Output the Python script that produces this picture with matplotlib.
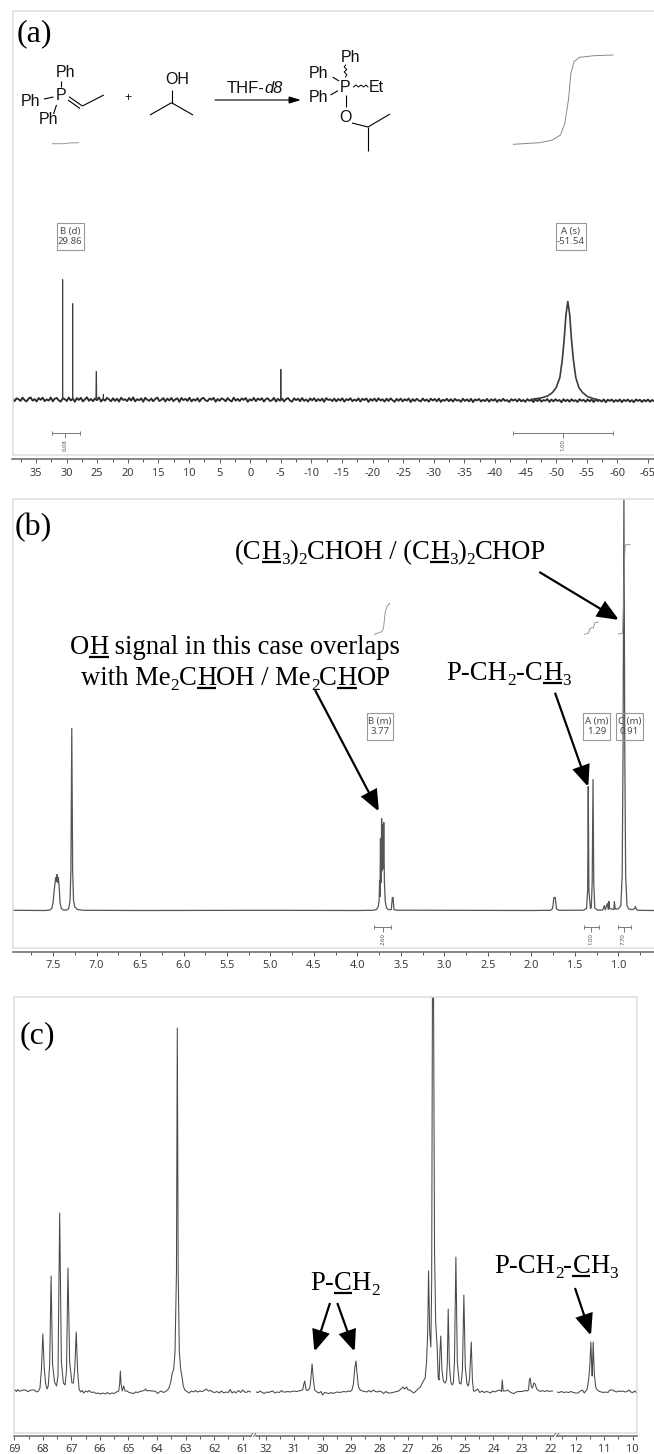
import matplotlib
matplotlib.use("Agg")
import matplotlib.pyplot as plt
import numpy as np
from matplotlib.patches import FancyArrowPatch, Rectangle

W, H, DPI = 654, 1454, 100
PX = 72 / DPI
SERIF, SANS, TICKF = "Liberation Serif", "Liberation Sans", "Noto Sans"

# ---------- DATA ----------
a_ticks = [35, 30, 25, 20, 15, 10, 5, 0, -5, -10, -15, -20, -25, -30, -35, -40, -45, -50, -55, -60, -65]
b_ticks = [7.5, 7.0, 6.5, 6.0, 5.5, 5.0, 4.5, 4.0, 3.5, 3.0, 2.5, 2.0, 1.5, 1.0]
c_ticks_left = [69, 68, 67, 66, 65, 64, 63, 62, 61]
c_ticks_mid = [32, 31, 30, 29, 28, 27, 26, 25, 24, 23, 22]
c_ticks_right = [12, 11, 10]

# (a) 31P baseline noise, height above baseline, left to right
a_noise = [0.6,-1.7,1.2,0.2,-1.4,1.9,-0.6,-1.9,1.0,2.1,-1.2,0.4,-2.0,1.5,-0.3,1.8,-1.6,0.1,-1.1,2.0,
 -1.8,0.7,1.6,-0.9,-2.1,1.3,0.3,-1.5,1.9,-1.0,0.9,-2.2,1.4,-0.4,1.7,-1.9,0.2,2.2,-1.3,0.6,
 -1.7,1.1,-0.7,2.0,-2.0,0.5,-1.2,1.6,0.1,-1.8,1.3,-1.4,0.8,-2.1,1.8,-0.5,0.3,-1.6,1.5,-1.1,
 2.1,-1.9,0.4,-0.8,1.2,-2.2,1.7,-0.2,-1.3,1.0,-1.8,0.6,1.9,-1.5,-0.4,1.4,-2.0,0.9,-1.0,1.6,
 -1.7,0.2,1.1,-2.3,1.5,-0.6,0.7,-1.4,1.8,-1.9,0.3,-1.1,1.3,-2.1,0.8,1.6,-0.9,-1.6,1.0,-0.3,
 1.7,-2.2,0.5,-1.3,1.2,0.1,-1.8,1.4,-0.7,-2.0,1.9,-1.2,0.6,-1.6,1.1,-0.4,1.5,-2.3,0.2,-1.0,
 1.6,-1.7,0.9,-0.5,1.3,-2.1,0.4,1.2,-1.5,-0.8,1.7,-2.0,0.7,-1.2,1.0,-1.9,0.3,1.4,-1.1,-2.2,
 1.2,-0.6,0.8,-1.7,1.5,-1.4,0.1,-2.1,1.1,-0.9,1.3,-1.8,0.5,-1.3,0.9,-2.3,1.4,-0.5,0.2,-1.6,
 1.0,-1.9,0.6,-1.1,1.2,-2.2,0.4,-0.8,1.3,-1.7,0.0,-1.4,1.1,-2.0,0.7,-0.6,1.0,-2.4,0.5,-1.2,
 0.9,-1.8,1.2,-1.0,0.2,-2.1,0.8,-1.5,1.1,-0.7,-2.3,0.6,-1.3,0.9,-1.9,0.3,-1.1,1.0,-2.5,0.4,
 -1.6,0.7,-0.9,-2.0,1.0,-1.4,0.1,-2.2,0.8,-1.0,0.5,-1.8,0.9,-2.4,-0.2,-1.3,0.7,-1.7,0.3,-2.1,
 0.6,-1.1,-0.4,-2.3,0.8,-1.5,0.2,-1.9,0.7,-2.6,0.1,-1.0,0.5,-2.0,-0.3,-1.6,0.6,-2.2,0.2,-1.2,
 0.4,-2.4,-0.1,-1.7,0.7,-1.4,-0.5,-2.5,0.3,-1.1,0.1,-2.0,0.5,-1.8,-0.4,-2.3,0.4,-1.3,-0.2,-2.6,
 0.2,-1.6,0.3,-2.1,-0.6,-1.2,0.4,-2.4,0.0,-1.9,0.2,-1.4,-0.5,-2.7,0.3,-1.7,-0.2,-2.2,0.2,-1.5,
 -0.7,-2.5,0.3,-1.3,-0.3,-2.3,0.1,-1.8,-0.1,-2.6,0.2,-1.6,-0.6,-2.1,0.1,-2.8,-0.2,-1.4,0.0,-2.4,
 -0.5,-1.9,0.1,-2.6,-0.3,-1.7,0.0,-2.2,-0.6,-2.7,0.1,-1.5,-0.2,-2.5,-0.4,-1.9,0.0,-2.3,-0.5,-1.6]
a_peak1 = [(30.66, 0), (30.63, 120), (30.60, 0)]
a_peak2 = [(29.02, 0), (28.99, 96), (28.96, 0)]
a_peak3 = [(25.22, 0), (25.17, 28), (25.12, 28), (25.07, 0)]
a_peak4 = [(24.03, 0), (24.00, 5), (23.97, 0)]
a_peak5 = [(-4.98, 0), (-5.00, 30), (-5.02, 0)]
a_peak6 = [(-46.0,0.2),(-47.5,1.5),(-48.6,3.5),(-49.4,7),(-50.0,12),(-50.6,22),(-51.0,40),(-51.3,60),(-51.6,85),
           (-51.9,98),(-52.2,85),(-52.5,60),(-52.8,40),(-53.2,22),(-53.7,12),(-54.3,7),(-55.1,3),(-56.1,0.8),(-57,-0.5)]
a_int1 = [(32.34,255.8),(30.62,255.8),(29.6,256.5),(28.03,256.8)]
a_int2 = [(-43.0,255.2),(-47.3,256.8),(-49.4,259.5),(-50.7,264.5),(-51.4,276.2),(-52.0,299.5),(-52.4,326.2),
          (-52.9,337.8),(-53.8,342.2),(-56.2,343.8),(-59.3,344.5)]

# (b) 1H trace (ppm, height)
b_trace = [(7.96,0.2),(7.60,0),(7.54,0.4),(7.515,2),(7.50,8),(7.485,22),(7.47,33),(7.46,29),(7.455,36),(7.445,28),(7.44,33),
 (7.43,24),(7.42,8),(7.405,2),(7.38,0.5),(7.34,0.5),(7.32,2),(7.305,10),(7.295,40),(7.285,182),(7.275,40),
 (7.265,10),(7.25,3.5),(7.22,1),(7.15,0.2),(6.5,0),(5.0,0.2),(4.0,0),(3.82,0.2),(3.78,1),(3.76,4),(3.75,10),
 (3.745,30),(3.74,14),(3.735,72),(3.728,28),(3.722,92),(3.716,40),(3.71,86),(3.703,42),(3.697,88),(3.69,30),
 (3.68,9),(3.665,2.5),(3.64,0.8),(3.61,1),(3.598,13),(3.59,13),(3.58,1),(3.55,0.3),(3.0,0.2),(2.0,0),(1.78,0.2),
 (1.755,2),(1.74,13),(1.725,13),(1.71,1.5),(1.68,0.2),(1.40,0.3),(1.365,2),(1.352,20),(1.345,124),(1.338,20),
 (1.32,2),(1.31,3),(1.30,28),(1.29,131),(1.282,28),(1.27,2.5),(1.24,0.4),(1.18,0.4),(1.16,5),(1.15,0.6),(1.125,7),(1.115,1),
 (1.108,9),(1.10,2),(1.05,1),(1.045,9),(1.035,1.5),(1.0,1.5),(0.97,5),(0.955,35),(0.945,160),(0.935,420),(0.925,160),
 (0.915,35),(0.90,5),(0.88,1.5),(0.84,0.8),(0.81,2),(0.805,4),(0.795,2),(0.78,0.2),(0.59,0)]
b_int1 = [(3.806,276.2),(3.72,278.8),(3.70,282.2),(3.68,298.8),(3.66,303.8),(3.63,307.2)]
b_int2 = [(1.39,276.2),(1.345,277.2),(1.325,282.2),(1.287,282.8),(1.268,287.8),(1.23,288.5)]
b_int3 = [(1.0,276.5),(0.95,277.2),(0.938,312),(0.931,345),(0.92,365.5),(0.865,366.2)]

# (c) 13C trace segments (ppm, height)
c_left = [(69.02,1),(68.97,2),(68.92,0.5),(68.88,2.5),(68.82,0.8),(68.75,1.5),(68.68,2),(68.6,2),(68.52,0.3),(68.45,1.5),
 (68.38,2),(68.3,2),(68.22,0),(68.15,1),(68.1,4),(68.05,22),(68.0,58),(67.95,24),(67.9,8),(67.85,3),(67.81,6),(67.76,28),
 (67.71,116),(67.66,28),(67.59,10),(67.52,6),(67.47,16),(67.41,179),(67.35,30),(67.28,9),(67.22,7),(67.17,22),(67.12,124),
 (67.06,30),(66.98,9),(66.93,9),(66.88,24),(66.83,60),(66.78,20),(66.73,3),(66.68,0),(66.62,1.5),(66.57,-1),(66.5,1),
 (66.44,0),(66.38,1.5),(66.3,-0.5),(66.22,0),(66.14,-1.5),(66.05,-1),(65.98,-2),(65.9,-1),(65.82,-2),(65.74,-0.5),(65.66,-2),
 (65.58,-1),(65.5,-1.5),(65.42,0),(65.34,1),(65.31,8),(65.285,21),(65.26,8),(65.22,1),(65.17,6),(65.12,1),(65.05,1),
 (64.98,-0.5),(64.9,-1),(64.82,-1.5),(64.75,0),(64.68,-0.5),(64.6,0.5),(64.52,1),(64.45,1.5),(64.4,3),(64.35,1),(64.28,1.5),
 (64.2,1),(64.12,1),(64.05,0.5),(63.98,-1.5),(63.92,0),(63.85,1),(63.78,-0.5),(63.7,0.5),(63.63,2),(63.57,5),(63.52,10),
 (63.46,20),(63.42,22),(63.37,40),(63.32,120),(63.29,364),(63.26,120),(63.22,40),(63.17,22),(63.13,16),(63.08,6),(63.03,2),
 (62.95,0.5),(62.88,-1),(62.8,1),(62.72,0),(62.65,1.5),(62.58,0),(62.5,1),(62.42,0.5),(62.35,1.5),(62.28,3),(62.2,1),
 (62.12,1.5),(62.05,0),(61.98,-0.5),(61.9,0.5),(61.82,-1),(61.75,1),(61.66,-1),(61.58,0),(61.5,-0.5),(61.44,2.5),(61.37,-1),
 (61.3,0.5),(61.24,-1),(61.15,1.5),(61.07,-0.5),(61.0,2),(60.93,0),(60.87,-0.5),(60.8,1),(60.72,0)]
c_mid = [(32.34,0),(32.26,-0.5),(32.2,1),(32.12,-0.5),(32.05,-1.5),(31.97,0),(31.9,-0.5),(31.82,0.5),(31.75,1),(31.68,-1),
 (31.6,0),(31.52,-0.5),(31.44,1.5),(31.38,0),(31.3,0),(31.22,0.5),(31.15,0),(31.08,0.5),(31.0,1),(30.92,0.5),(30.85,1),
 (30.78,1.5),(30.7,2),(30.66,8),(30.63,11),(30.58,2),(30.52,1.5),(30.45,4),(30.41,14),(30.37,28),(30.33,14),(30.28,2),
 (30.2,0),(30.13,-1),(30.06,0.5),(30.0,-3),(29.93,-0.5),(29.86,-1),(29.78,-1.5),(29.7,-0.5),(29.62,-1.5),(29.55,-0.5),
 (29.48,0),(29.4,-0.5),(29.32,0),(29.25,0.5),(29.18,0),(29.1,1),(29.03,0.5),(28.97,2),(28.92,8),(28.87,24),(28.83,31),
 (28.79,18),(28.74,5),(28.68,2),(28.6,1),(28.52,0.5),(28.45,0),(28.37,1.5),(28.3,0),(28.22,2),(28.15,0.5),(28.08,0),
 (28.0,1),(27.92,0),(27.86,-1.5),(27.78,0.5),(27.7,-1),(27.62,-1),(27.55,-0.5),(27.47,0),(27.4,0.5),(27.33,1),(27.25,3),
 (27.18,5),(27.12,3),(27.05,5),(27.0,2),(26.94,2),(26.87,0.5),(26.8,-1),(26.72,1),(26.65,3),(26.57,5),(26.48,10),
 (26.4,14),(26.35,30),(26.31,60),(26.28,121),(26.24,60),(26.2,45),(26.17,110),(26.14,440),(26.11,440),(26.07,140),(26.03,70),
 (25.98,46),(25.94,14),(25.91,12),(25.88,40),(25.85,56),(25.81,22),(25.76,11),(25.7,9),(25.65,12),(25.62,30),(25.59,83),
 (25.55,28),(25.5,10),(25.45,7),(25.41,9),(25.37,30),(25.32,135),(25.27,30),(25.2,9),(25.14,8),(25.09,22),(25.04,97),
 (24.99,25),(24.93,8),(24.88,6),(24.84,14),(24.78,50),(24.74,12),(24.7,1),(24.64,1),(24.56,3),(24.48,-0.5),(24.4,1),
 (24.33,-0.5),(24.25,0.5),(24.18,0),(24.1,-1),(24.03,1),(23.95,0),(23.88,1),(23.8,2),(23.72,0.5),(23.69,12),(23.66,1),
 (23.58,1),(23.5,2),(23.42,0),(23.35,-1),(23.28,-1.5),(23.2,0),(23.12,0.5),(23.05,0.5),(22.98,0.5),(22.9,1.5),(22.82,1),(22.77,2),
 (22.74,12),(22.71,14),(22.67,5),(22.63,4),(22.58,9),(22.54,8),(22.48,3),(22.42,1.5),(22.35,0.5),(22.28,1.5),(22.2,0.5),
 (22.12,1.5),(22.05,0.5),(21.97,1),(21.92,1)]
c_right = [(12.66,0),(12.58,-0.5),(12.5,0.5),(12.42,-0.5),(12.33,0),(12.25,-0.5),(12.17,0.5),(12.09,-0.5),(12.0,-1),(11.92,-1),
 (11.84,1),(11.77,2),(11.7,-1),(11.65,1),(11.6,3),(11.55,12),(11.51,25),(11.47,50),(11.43,16),(11.42,16),(11.39,50),(11.35,18),
 (11.3,5),(11.25,2),(11.17,0.5),(11.1,0),(11.02,-0.5),(10.95,0),(10.87,-0.5),(10.8,2),(10.72,2),(10.65,1),(10.57,0),(10.5,1),
 (10.42,0.5),(10.34,1),(10.27,0),(10.2,0.5),(10.13,2),(10.07,0),(10.0,-0.5),(9.92,1),(9.86,-1)]

# ---------- FIGURE ----------
plt.rcParams["font.family"] = TICKF
fig = plt.figure(figsize=(W / DPI, H / DPI), dpi=DPI, facecolor="white")


def spec_ax(x0, x1, ytop, ybot, xlim, base):
    ax = fig.add_axes([x0 / W, 1 - ybot / H, (x1 - x0) / W, (ybot - ytop) / H])
    ax.set_xlim(*xlim)
    ax.set_ylim(base - ybot, base - ytop)
    ax.patch.set_alpha(0)
    for s in ("top", "left", "right"):
        ax.spines[s].set_visible(False)
    ax.spines["bottom"].set_color("#666666")
    ax.spines["bottom"].set_linewidth(1.1)
    ax.set_yticks([])
    return ax


def ticks(ax, major, fmt, minor):
    ax.set_xticks(major)
    ax.set_xticklabels([fmt.format(m) for m in major])
    ax.set_xticks(minor, minor=True)
    ax.tick_params(axis="x", which="major", length=3.2, width=0.7, color="#555555",
                   labelsize=7.9, labelcolor="#3a3a3a", pad=3.0)
    ax.tick_params(axis="x", which="minor", length=2.2, width=0.7, color="#555555")


def line(ax, pts, color="#3c3c3c", lw=0.7):
    arr = np.array(pts)
    ax.plot(arr[:, 0], arr[:, 1], color=color, lw=lw, solid_joinstyle="round")


# (a) --------
ax_a = spec_ax(12.5, 654, 11, 459, (38.84, -65.98), 399.5)
ticks(ax_a, a_ticks, "{:d}", [p + 2.5 for p in a_ticks if p > -65])
ax_a.plot(np.linspace(38.84, -65.98, len(a_noise)), a_noise, color="#2a2a2a", lw=1.35)
for pk, lw in ((a_peak1, 0.6), (a_peak2, 0.6), (a_peak3, 0.7), (a_peak4, 0.7), (a_peak5, 0.8), (a_peak6, 1.2)):
    line(ax_a, pk, lw=lw)
line(ax_a, a_int1, "#999999", 0.7)
line(ax_a, a_int2, "#888888", 0.7)

# (b) --------
ax_b = spec_ax(13, 654, 499, 951.7, (7.961, 0.589), 910.5)
ticks(ax_b, b_ticks, "{:.1f}", [p - 0.25 for p in b_ticks] + [7.75])
line(ax_b, b_trace, "#555555", 0.9)
line(ax_b, b_int1, "#888888", 0.6)
line(ax_b, b_int2, "#888888", 0.6)
line(ax_b, b_int3, "#888888", 0.6)

# (c) --------
ax_c1 = spec_ax(13.7, 250.7, 996.7, 1435.7, (69.02, 60.72), 1392)
ticks(ax_c1, c_ticks_left, "{:d}", [p - 0.5 for p in c_ticks_left[:-1]])
ax_c2 = spec_ax(256, 552.7, 996.7, 1435.7, (32.34, 21.92), 1392)
ticks(ax_c2, c_ticks_mid, "{:d}", [p - 0.5 for p in c_ticks_mid[:-1]] + [32.25])
ax_c3 = spec_ax(557, 636.7, 996.7, 1435.7, (12.66, 9.86), 1392)
ticks(ax_c3, c_ticks_right, "{:d}", [11.5, 10.5, 12.5])
line(ax_c1, c_left, "#484848", 0.75)
line(ax_c2, c_mid, "#484848", 0.75)
line(ax_c3, c_right, "#484848", 0.75)

# overlay in pixel coordinates ---------
ov = fig.add_axes([0, 0, 1, 1], zorder=5)
ov.set_xlim(0, W)
ov.set_ylim(H, 0)
ov.axis("off")
ov.patch.set_alpha(0)


def seg(x0, y0, x1, y1, c="black", lw=0.8):
    ov.plot([x0, x1], [y0, y1], color=c, lw=lw, solid_capstyle="butt")


# panel frames
FR = "#dcdcdc"
for xs, ys in (([12.5, 12.5, 654], [455, 11, 11]), ([12.5, 654], [455, 455]),
               ([13, 13, 654], [948.3, 499, 499]), ([13, 654], [948.3, 948.3]),
               ([13.7, 13.7, 636.7, 636.7], [1432.7, 996.7, 996.7, 1432.7]), ([13.7, 636.7], [1432.7, 1432.7])):
    ov.plot(xs, ys, color=FR, lw=1.1, zorder=0)

# panel letters
for s, x, y in (("(a)", 17, 41), ("(b)", 15, 535), ("(c)", 20, 1043)):
    ov.text(x, y, s, fontfamily=SERIF, fontsize=32 * PX, ha="left", va="baseline", color="black")

# structure labels
def chem(x, y, s, size=16, **kw):
    ov.text(x, y, s, fontfamily=SANS, fontsize=size * PX, ha="center", va="center", color="#111111", **kw)

for x, y, s in ((65.7, 72.7, "Ph"), (60.7, 96, "P"), (30, 102, "Ph"), (48, 119, "Ph"), (177, 80, "OH"),
                (350.6, 57, "Ph"), (318, 74, "Ph"), (345, 87, "P"), (376.5, 87, "Et"), (318, 98, "Ph"), (345, 117, "O")):
    chem(x, y, s)
chem(127.6, 98, "+", 12)
ov.text(227, 93, "THF-", fontfamily=SANS, fontsize=16.5 * PX, ha="left", va="baseline", color="#111111")
ov.text(264, 93, "d8", fontfamily=SANS, fontstyle="italic", fontsize=16.5 * PX, ha="left", va="baseline", color="#111111")
for s in ((60.7, 81, 60.7, 87), (44, 99, 53.5, 97), (56.5, 105, 53.5, 114), (69, 96.7, 82.4, 106), (68, 100, 80, 108.5),
          (82.4, 106, 103.8, 95), (171.5, 90, 171.5, 102.7), (150, 115, 171.5, 102.7), (171.5, 102.7, 193, 115),
          (332.6, 77, 339, 81), (330.5, 95, 338, 90.7), (346.4, 95, 346.4, 107), (352, 123, 368, 127), (368, 127, 390, 114),
          (368, 127, 368, 151)):
    seg(*s)
# wavy bonds
ov.plot([345.6, 344.2, 346.8, 344.2, 346.8, 345.6], [65, 67, 69.5, 72, 74.5, 77], color="black", lw=0.7)
ov.plot([353.5, 356, 358.5, 361, 363.5, 366, 368], [87, 85, 87, 85, 87, 85, 87], color="black", lw=0.7)


def arrow(x0, y0, x1, y1, lw=2.2, hl=18, hw=15):
    ov.add_patch(FancyArrowPatch((x0, y0), (x1, y1), arrowstyle=f"-|>,head_length={hl * PX},head_width={hw / 2 * PX}",
                                 mutation_scale=1, lw=lw * PX, color="black", shrinkA=0, shrinkB=0,
                                 joinstyle="miter", capstyle="butt", zorder=6))


arrow(214.6, 100, 301, 100, lw=1.1, hl=10, hw=6)
arrow(539.3, 572, 619, 620)
arrow(315, 690, 379, 811.7)
arrow(555, 692.7, 588.3, 787)
arrow(330, 1303, 314.3, 1351.7)
arrow(337.3, 1303, 354.7, 1351.7)
arrow(575, 1288, 591, 1335.7)

# peak label boxes
for x0, x1, y0, y1, s1, s2 in ((56.5, 83.7, 223, 250, "B (d)", "29.86"), (555.6, 586, 223, 250, "A (s)", "-51.54"),
                               (366.7, 393.3, 713, 740, "B (m)", "3.77"), (583, 610, 713, 740, "A (m)", "1.29"),
                               (615.7, 642.7, 713, 740, "C (m)", "0.91")):
    ov.add_patch(Rectangle((x0, y0), x1 - x0, y1 - y0, fc="none", ec="#999999", lw=0.8))
    ov.text((x0 + x1) / 2, y0 + 8.5, s1, fontsize=9.6 * PX, ha="center", va="center", color="#4a4a4a")
    ov.text((x0 + x1) / 2, y0 + 19, s2, fontsize=9.6 * PX, ha="center", va="center", color="#4a4a4a")

# integral bars
for x0, x1, xc, y, s in ((52, 79.5, 65, 433, "0.08"), (513, 613, 563, 433, "1.00"), (374, 390.7, 382.7, 926.7, "2.60"),
                         (584, 598.7, 591, 926.7, "1.00"), (618, 630.7, 623.7, 926.7, "7.70")):
    seg(x0, y, x1, y, "#777777", 0.7)
    seg(x0, y - 2, x0, y + 2, "#777777", 0.7)
    seg(x1, y - 2, x1, y + 2, "#777777", 0.7)
    seg(xc, y, xc, y + 5, "#777777", 0.7)
    ov.text(xc, y + 12, s, rotation=90, fontsize=6 * PX, ha="center", va="center", color="#555555")

# axis breaks in (c)
for x in (250, 253, 553, 556):
    seg(x, 1437, x + 3, 1433, "#666666", 0.6)
ov.add_patch(Rectangle((0, 1438), 10, 16, fc="white", ec="none", zorder=7))


# rich serif annotations: 'n' normal, 's' subscript, 'u' underlined
def rich(x, y, runs, size=26.6):
    rend = fig.canvas.get_renderer()

    def width(s, sz):
        a = ov.text(0, 0, "|" + s + "|", fontfamily=SERIF, fontsize=sz * PX)
        b = ov.text(0, 0, "||", fontfamily=SERIF, fontsize=sz * PX)
        w = a.get_window_extent(rend).width - b.get_window_extent(rend).width
        a.remove()
        b.remove()
        return w

    for s, k in runs:
        sz = size * 0.65 if k == "s" else size
        yy = y + (size * 0.2 if k == "s" else 0)
        ov.text(x, yy, s, fontfamily=SERIF, fontsize=sz * PX, ha="left", va="baseline", color="black")
        w = width(s, sz)
        if k == "u":
            ov.plot([x, x + w], [y + 3.3, y + 3.3], color="black", lw=1.6, solid_capstyle="butt")
        x += w


rich(235, 559, [("(C", "n"), ("H", "u"), ("3", "s"), (")", "n"), ("2", "s"), ("CHOH / (C", "n"), ("H", "u"), ("3", "s"),
                (")", "n"), ("2", "s"), ("CHOP", "n")])
rich(70, 654, [("O", "n"), ("H", "u"), (" signal in this case overlaps", "n")])
rich(81, 685, [("with Me", "n"), ("2", "s"), ("C", "n"), ("H", "u"), ("OH / Me", "n"), ("2", "s"), ("C", "n"), ("H", "u"), ("OP", "n")])
rich(446.7, 679.5, [("P-CH", "n"), ("2", "s"), ("-C", "n"), ("H", "u"), ("3", "s")])
rich(310, 1290, [("P-", "n"), ("C", "u"), ("H", "n"), ("2", "s")])
rich(494, 1273, [("P-CH", "n"), ("2", "s"), ("-", "n"), ("C", "u"), ("H", "n"), ("3", "s")])

fig.savefig("out.png", dpi=DPI, facecolor="white")
